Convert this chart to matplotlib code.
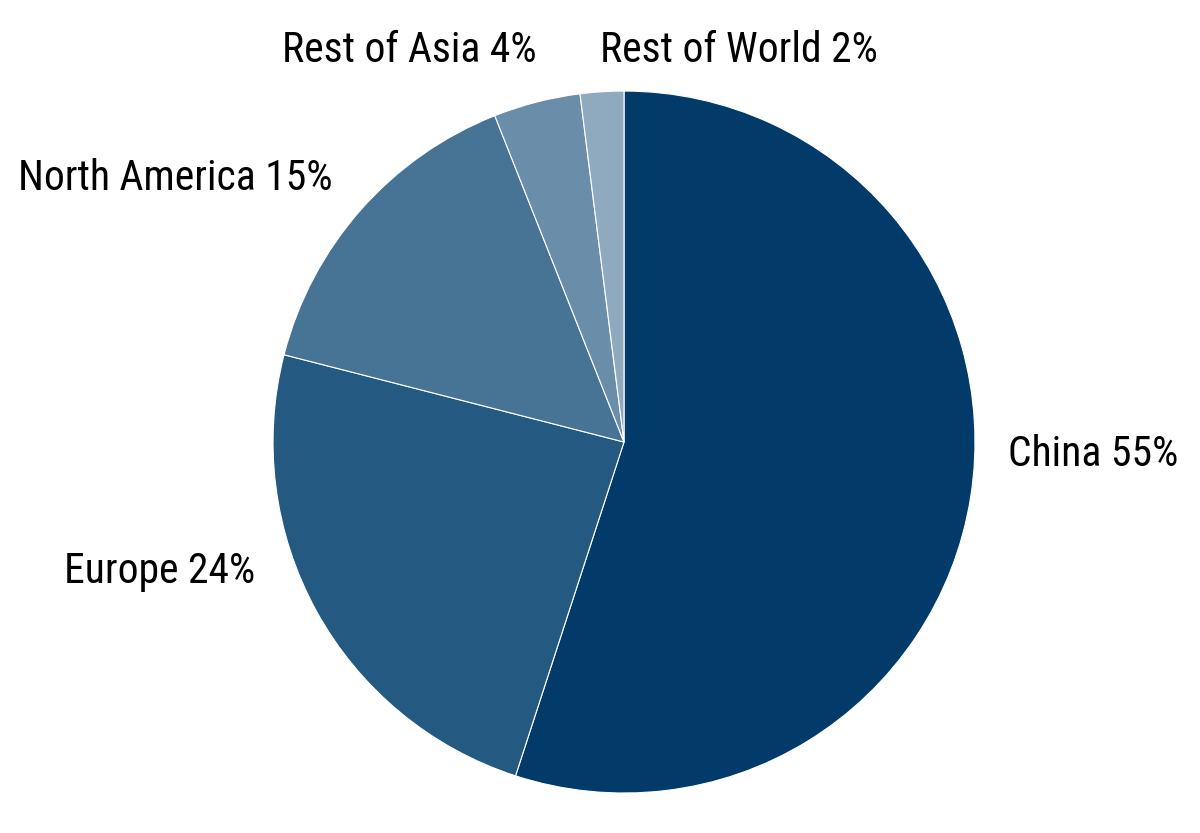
import matplotlib.pyplot as plt

# Datos del gráfico
regiones = ["China", "Europe", "North America", "Rest of Asia", "Rest of World"]
porcentajes = [55, 24, 15, 4, 2]
colores = ["#023b69", "#245a81", "#477495", "#6a8daa", "#8fa9bf"]

plt.rcParams['font.family'] = ['Roboto Condensed', 'Liberation Sans Narrow', 'Roboto', 'DejaVu Sans']

fig = plt.figure(figsize=(12, 8.33), dpi=100)
ax = fig.add_axes([0.2275, 0.048, 0.585, 0.8427])

etiquetas = [f"{r} {p}%" for r, p in zip(regiones, porcentajes)]
wedges, textos = ax.pie(porcentajes, labels=etiquetas, colors=colores,
                        startangle=90, counterclock=False, radius=1,
                        labeldistance=1.1,
                        wedgeprops=dict(edgecolor='white', linewidth=0.8),
                        textprops=dict(fontsize=30, color='black'))
ax.set_xlim(-1, 1)
ax.set_ylim(-1, 1)

# Posición de las etiquetas (como en el original)
posiciones = [(1.094, -0.035, 'left'), (-1.051, -0.37, 'right'),
              (-0.829, 0.75, 'right'), (-0.248, 1.115, 'right'),
              (-0.068, 1.115, 'left')]
for t, (x, y, ha) in zip(textos, posiciones):
    t.set_position((x, y))
    t.set_ha(ha)
    t.set_va('center')

fig.savefig("out.png", dpi=100)
